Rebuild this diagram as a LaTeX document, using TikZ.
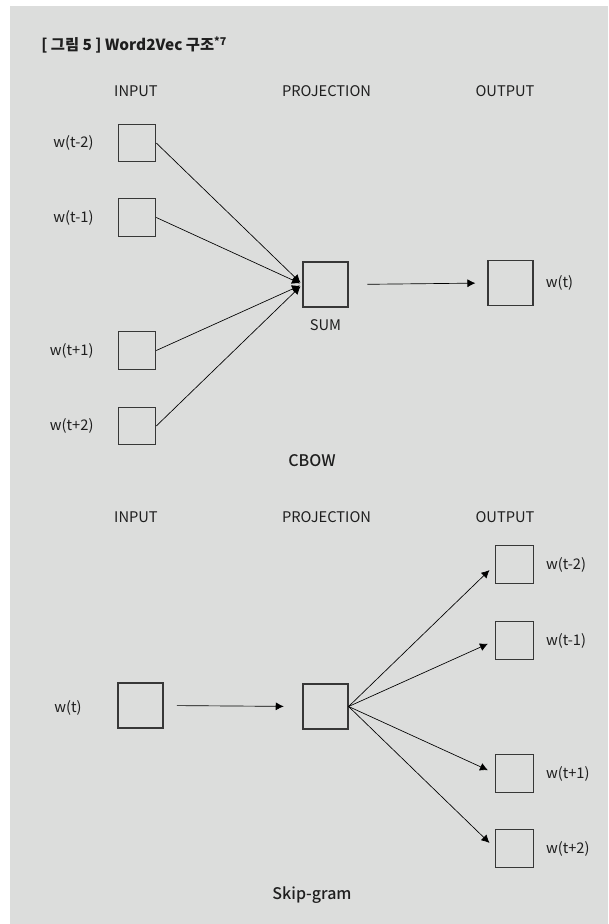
\documentclass[tikz,border=0pt]{standalone}
\usepackage{fontspec}
\setmainfont{Noto Sans CJK KR}
\newfontfamily\medfont{Noto Sans CJK KR Medium}
\usetikzlibrary{arrows.meta,positioning}
\definecolor{panelgray}{RGB}{220,221,220}
\definecolor{boxline}{RGB}{55,55,55}
\definecolor{inkgray}{RGB}{30,30,30}

\begin{document}
\begin{tikzpicture}[
  x=0.75pt, y=-0.75pt,
  cell/.style={draw=boxline, line width=0.9pt, minimum size=33.75pt, inner sep=0pt},
  cellsm/.style={cell, minimum size=28pt},
  word/.style={font=\fontsize{11}{13}\selectfont, text=inkgray, inner sep=0pt},
  tag/.style={font=\medfont\fontsize{12}{14}\selectfont, text=inkgray, inner sep=0pt, anchor=base},
  line/.style={line width=0.5pt, -{Latex[length=6pt,width=6pt]}}
]
  % Panel
  \useasboundingbox (0,0) rectangle (608,924);
  \fill[panelgray] (10,6) rectangle (608,924);

  % Title
  \node[anchor=base west, inner sep=0pt, text=inkgray, font=\bfseries\fontsize{11.5}{14}\selectfont] (title) at (41,51) {[ 그림 5 ] Word2Vec 구조\textsuperscript{*7}};

  % CBOW headers
  \node[word] (cin) at (136,91.5) {INPUT};
  \node[word] (cproj) at (326.5,91.5) {PROJECTION};
  \node[word] (cout) at (505,91.5) {OUTPUT};

  % CBOW context words
  \node[cellsm] (in1) at (137,143) {};
  \node[cellsm] (in2) at (137,217.5) {};
  \node[cellsm] (in3) at (137,350.5) {};
  \node[cellsm] (in4) at (137,426) {};
  \node[word, left=18pt of in1] (lin1) {w(t-2)};
  \node[word, left=18pt of in2] (lin2) {w(t-1)};
  \node[word, left=18pt of in3] (lin3) {w(t+1)};
  \node[word, left=18pt of in4] (lin4) {w(t+2)};

  % CBOW sum and target
  \node[cell] (sum) at (325.5,284.5) {};
  \node[word, below=9pt of sum] (lsum) {SUM};
  \node[cell] (tgt) at (510.5,283) {};
  \node[word, right=9pt of tgt] (ltgt) {w(t)};

  % CBOW edges
  \draw[line, shorten >=2pt] (in1.east) -- (sum.west);
  \draw[line, shorten >=2pt] (in2.east) -- (sum.west);
  \draw[line, shorten >=2pt] (in3.east) -- (sum.west);
  \draw[line, shorten >=2pt] (in4.east) -- (sum.west);
  \draw[line, shorten <=14pt, shorten >=9pt] (sum.east) -- (tgt.west);

  \node[tag] (cbow) at (312,466) {CBOW};

  % Skip-gram headers
  \node[word] (sin) at (136,517) {INPUT};
  \node[word] (sproj) at (326.5,517) {PROJECTION};
  \node[word] (sout) at (505,517) {OUTPUT};

  % Skip-gram centre word
  \node[cell] (src) at (140.5,705.5) {};
  \node[word] (lsrc) at (68,708) {w(t)};
  \node[cell] (hid) at (325.5,706.5) {};
  \draw[line, shorten <=10pt, shorten >=14pt] (src.east) -- (hid.west);

  % Skip-gram context words
  \node[cellsm] (out1) at (514.5,564.5) {};
  \node[cellsm] (out2) at (514.5,640.5) {};
  \node[cellsm] (out3) at (514.5,773.5) {};
  \node[cellsm] (out4) at (514.5,848.5) {};
  \node[word, right=9pt of out1] (lout1) {w(t-2)};
  \node[word, right=9pt of out2] (lout2) {w(t-1)};
  \node[word, right=9pt of out3] (lout3) {w(t+1)};
  \node[word, right=9pt of out4] (lout4) {w(t+2)};

  % Skip-gram edges
  \draw[line, shorten >=6pt] (hid.east) -- (out1.west);
  \draw[line, shorten >=6pt] (hid.east) -- (out2.west);
  \draw[line, shorten >=6pt] (hid.east) -- (out3.west);
  \draw[line, shorten >=6pt] (hid.east) -- (out4.west);

  \node[tag] (skip) at (312,899) {Skip-gram};
\end{tikzpicture}
\end{document}
